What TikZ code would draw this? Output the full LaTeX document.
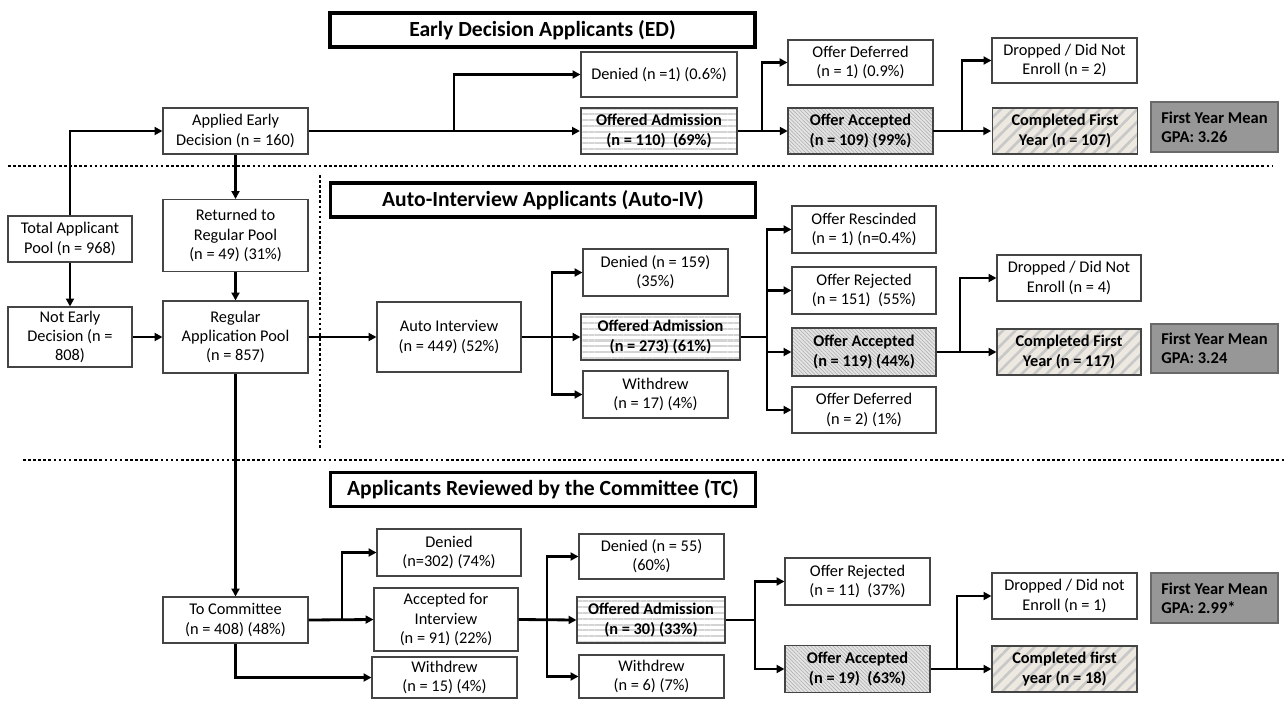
\documentclass[tikz,border=0pt]{standalone}
\usepackage{fontspec}
\setmainfont{Carlito}
\usepackage{xcolor}
\usepackage{tikz}
\usetikzlibrary{arrows.meta, patterns.meta}
\definecolor{BoxLine}{HTML}{444444}
\definecolor{Sand}{HTML}{EDE9E1}
\definecolor{StripeGray}{HTML}{C8C8C8}
\definecolor{LineGray}{HTML}{D4D4D4}
\definecolor{HatchGray}{HTML}{ABABAB}
\definecolor{LightFill}{HTML}{E4E4E4}
\definecolor{GpaGray}{HTML}{979797}

\begin{document}
\begin{tikzpicture}[x=0.02cm, y=-0.02cm,
        box/.style={draw=BoxLine, line width=0.6pt, fill=white,
                    minimum width=2.9cm, minimum height=0.92cm, inner sep=1pt,
                    align=center, font=\fontsize{9.3}{10.9}\selectfont},
        tall/.style={minimum height=1.44cm},
        offered/.style={box, font=\fontsize{9.3}{10.9}\selectfont\bfseries,
                    preaction={fill=white},
                    pattern={Lines[angle=0, distance=3.3pt, line width=1.2pt]},
                    pattern color=LineGray},
        accepted/.style={box, font=\fontsize{9.3}{10.9}\selectfont\bfseries,
                    preaction={fill=LightFill},
                    pattern={Lines[angle=-45, distance=1.5pt, line width=0.3pt]},
                    pattern color=HatchGray},
        completed/.style={box, font=\fontsize{9.3}{10.9}\selectfont\bfseries,
                    preaction={fill=Sand},
                    pattern={Lines[angle=45, distance=5pt, line width=1.5pt]},
                    pattern color=StripeGray},
        gpa/.style={draw=BoxLine!80, line width=0.9pt, fill=GpaGray,
                    minimum width=2.54cm, minimum height=1cm, inner sep=1pt,
                    align=left, font=\fontsize{9.4}{11}\selectfont\bfseries},
        title/.style={draw=black, line width=2pt, fill=white,
                    minimum width=8.5cm, minimum height=0.68cm,
                    font=\fontsize{12.3}{14}\selectfont\bfseries},
        arr/.style={-{Triangle[length=4.5pt, width=4.5pt]}, line width=1.6pt},
        link/.style={line width=1.6pt},
        sep/.style={line width=1.5pt, dash pattern=on 1.5pt off 1.4pt}]

        \useasboundingbox (0,0) rectangle (1285,700);

        % Section separators
        \draw[sep] (8,166) -- (1272,166);
        \draw[sep] (23,460) -- (1285,460);
        \draw[sep] (320,175) -- (320,448);

        % Section titles
        \node[title] (tED)  at (542.5,30)  {Early Decision Applicants (ED)};
        \node[title] (tAIV) at (543,200)   {Auto-Interview Applicants (Auto-IV)};
        \node[title] (tTC)  at (543,489.5) {Applicants Reviewed by the Committee (TC)};

        % Applicant pool nodes
        \node[box, minimum width=2.48cm] (total) at (70,239) {Total Applicant\\Pool (n = 968)};
        \node[box, minimum width=2.48cm, minimum height=1.2cm] (notED) at (70,337) {Not Early\\Decision (n =\\808)};
        \node[box] (appED)   at (235.5,131)   {Applied Early\\Decision (n = 160)};
        \node[box, tall] (retRP)   at (235.5,235.5) {Returned to\\Regular Pool\\(n = 49) (31\%)};
        \node[box, tall] (regPool) at (235.5,337)   {Regular\\Application Pool\\(n = 857)};
        \node[box] (toCom)   at (235.5,620)   {To Committee\\(n = 408) (48\%)};

        % Early decision nodes
        \node[box, minimum width=3.12cm, minimum height=0.9cm] (edDen) at (659,74.5) {Denied (n =1) (0.6\%)};
        \node[offered, minimum width=3.12cm] (edOff) at (659,131) {Offered Admission\\(n = 110)\ \ (69\%)};
        \node[box, minimum height=0.9cm] (edDef) at (860.5,62.5) {Offer Deferred\\(n = 1) (0.9\%)};
        \node[accepted] (edAcc)  at (860.5,131) {Offer Accepted\\(n = 109) (99\%)};
        \node[box, minimum height=0.9cm] (edDrop) at (1064.5,60.5) {Dropped / Did Not\\Enroll (n = 2)};
        \node[completed] (edComp) at (1065,131) {Completed First\\Year (n = 107)};
        \node[gpa] (edGPA) at (1214.5,127) {First Year Mean\\GPA: 3.26};

        % Auto-interview nodes
        \node[box, minimum width=2.88cm, minimum height=1.4cm] (autoIV) at (449,337) {Auto Interview\\(n = 449) (52\%)};
        \node[box, minimum height=0.94cm] (aDen) at (655.5,272.5) {Denied (n = 159)\\(35\%)};
        \node[offered, minimum width=3.18cm] (aOff) at (660.5,337) {Offered Admission\\(n = 273) (61\%)};
        \node[box, minimum height=0.94cm] (aWd)  at (655.5,394.5) {Withdrew\\(n = 17) (4\%)};
        \node[box, minimum width=2.88cm, minimum height=0.94cm] (aRes) at (864,229.5) {Offer Rescinded\\(n = 1) (n=0.4\%)};
        \node[box, minimum width=2.88cm, minimum height=0.94cm] (aRej) at (864,290.5) {Offer Rejected\\(n = 151)\ \ (55\%)};
        \node[accepted, minimum width=2.88cm, minimum height=0.96cm] (aAcc) at (864,352) {Offer Accepted\\(n = 119) (44\%)};
        \node[box, minimum width=2.88cm] (aDef) at (864,410) {Offer Deferred\\(n = 2) (1\%)};
        \node[box, minimum width=2.88cm] (aDrop) at (1069,278) {Dropped / Did Not\\Enroll (n = 4)};
        \node[completed, minimum width=2.88cm] (aComp) at (1069,352) {Completed First\\Year (n = 117)};
        \node[gpa, minimum height=0.98cm] (aGPA) at (1214.5,348.5) {First Year Mean\\GPA: 3.24};

        % Committee nodes
        \node[box, minimum width=2.88cm, minimum height=0.94cm] (tDen) at (449,552.5) {Denied\\(n=302) (74\%)};
        \node[box, minimum width=2.88cm, minimum height=1.26cm] (tAcc) at (446,619.5) {Accepted for\\Interview\\(n = 91) (22\%)};
        \node[box, minimum height=0.82cm] (tWd) at (444.5,677.5) {Withdrew\\(n = 15) (4\%)};
        \node[box, minimum height=0.9cm] (cDen) at (651.5,556.5) {Denied (n = 55)\\(60\%)};
        \node[offered, minimum width=2.96cm] (cOff) at (651,620) {Offered Admission\\(n = 30) (33\%)};
        \node[box, minimum height=0.86cm] (cWd) at (651.5,676.5) {Withdrew\\(n = 6) (7\%)};
        \node[box, minimum height=0.94cm] (cRej) at (857.5,581.5) {Offer Rejected\\(n = 11)\ \ (37\%)};
        \node[accepted, minimum height=0.94cm] (cAcc) at (857.5,669) {Offer Accepted\\(n = 19)\ \ (63\%)};
        \node[box] (cDrop) at (1064.5,596) {Dropped / Did not\\Enroll (n = 1)};
        \node[completed] (cComp) at (1064.5,669) {Completed first\\year (n = 18)};
        \node[gpa] (cGPA) at (1214.5,598) {First Year Mean\\GPA: 2.99*};

        % Branch points
        \coordinate (edB1) at (454,131);
        \coordinate (edB2) at (762,131);
        \coordinate (edB3) at (962,131);
        \coordinate (aB1)  at (552,337);
        \coordinate (aB2)  at (767,337);
        \coordinate (aB3)  at (960,352);
        \coordinate (tB1)  at (342,620);
        \coordinate (cB1)  at (547,620);
        \coordinate (cB2)  at (755,620);
        \coordinate (cB3)  at (957,669);

        % Arrows -- pools
        \draw[arr] (total.north) |- (appED.west);
        \draw[arr] (total) -- (notED);
        \draw[arr] (appED) -- (retRP);
        \draw[arr] (retRP) -- (regPool);
        \draw[arr] (notED) -- (regPool);
        \draw[arr] (regPool) -- (autoIV);
        \draw[arr] (regPool) -- (toCom);

        % Arrows -- early decision
        \draw[arr] (appED.east) -- (edOff.west);
        \draw[arr] (edB1) |- (edDen.west);
        \draw[arr] (edOff.east) -- (edAcc.west);
        \draw[arr] (edB2) |- (edDef.west);
        \draw[arr] (edAcc.east) -- (edComp.west);
        \draw[arr] (edB3) |- (edDrop.west);

        % Arrows -- auto-interview
        \draw[arr] (autoIV.east) -- (aOff.west);
        \draw[arr] (aB1) |- (aDen.west);
        \draw[arr] (aB1) |- (aWd.west);
        \draw[link] (aOff.east) -- (aB2);
        \draw[arr] (aB2) |- (aRes.west);
        \draw[arr] (aB2) |- (aRej.west);
        \draw[arr] (aB2) |- (aAcc.west);
        \draw[arr] (aB2) |- (aDef.west);
        \draw[arr] (aAcc.east) -- (aComp.west);
        \draw[arr] (aB3) |- (aDrop.west);

        % Arrows -- committee
        \draw[arr] (toCom.east) -- (tAcc.west);
        \draw[arr] (tB1) |- (tDen.west);
        \draw[arr] (toCom.south) |- (tWd.west);
        \draw[arr] (tAcc.east) -- (cOff.west);
        \draw[arr] (cB1) |- (cDen.west);
        \draw[arr] (cB1) |- (cWd.west);
        \draw[link] (cOff.east) -- (cB2);
        \draw[arr] (cB2) |- (cRej.west);
        \draw[arr] (cB2) |- (cAcc.west);
        \draw[arr] (cAcc.east) -- (cComp.west);
        \draw[arr] (cB3) |- (cDrop.west);
      \end{tikzpicture}
\end{document}
